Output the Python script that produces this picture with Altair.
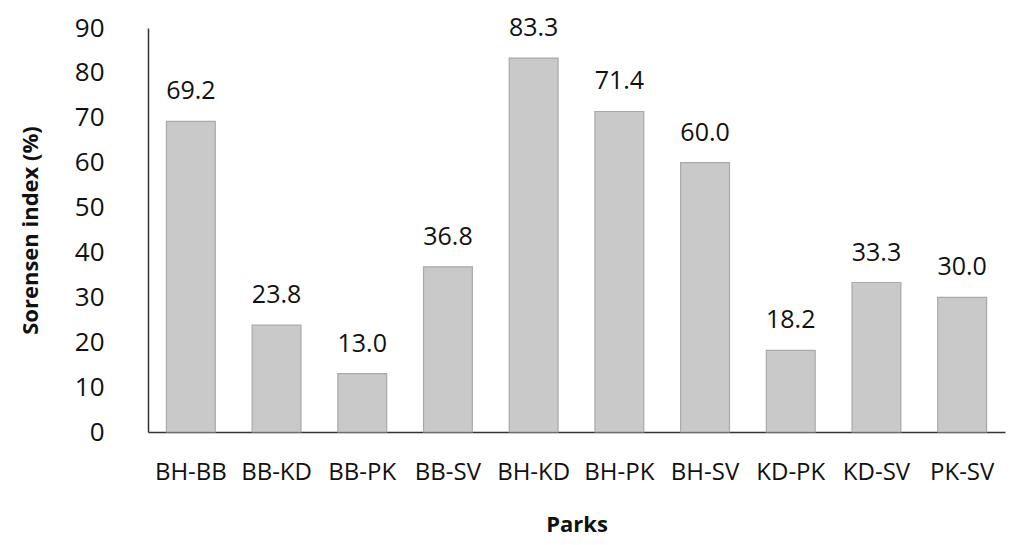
import altair as alt
import pandas as pd

parks = ["BH-BB", "BB-KD", "BB-PK", "BB-SV", "BH-KD", "BH-PK", "BH-SV", "KD-PK", "KD-SV", "PK-SV"]
sorensen = [69.2, 23.8, 13.0, 36.8, 83.3, 71.4, 60.0, 18.2, 33.3, 30.0]
y_ticks = [0, 10, 20, 30, 40, 50, 60, 70, 80, 90]

df = pd.DataFrame({"Parks": parks, "value": sorensen})
df["label"] = df["value"].map(lambda v: f"{v:.1f}")

FONT = "Open Sans"

x = alt.X("Parks:N", sort=parks, title="Parks",
          scale=alt.Scale(paddingInner=0.43, paddingOuter=0.215),
          axis=alt.Axis(labelAngle=0, labelFontSize=24, labelFont=FONT, labelColor="#111",
                        ticks=False, labelPadding=28, domainColor="#333", domainWidth=1.5,
                        titleFontSize=22, titleFont=FONT, titleFontWeight="bold",
                        titlePadding=30, titleColor="#111"))
y = alt.Y("value:Q", title="Sorensen index (%)",
          scale=alt.Scale(domain=[0, 90], nice=False),
          axis=alt.Axis(values=y_ticks, grid=False, ticks=False, labelFontSize=26,
                        labelFont=FONT, labelColor="#111", labelPadding=44,
                        domainColor="#333", domainWidth=1.5,
                        titleFontSize=22, titleFont=FONT, titleFontWeight="bold",
                        titlePadding=32, titleColor="#111"))

bars = alt.Chart(df).mark_bar(color="#c9c9c9", stroke="#a9a9a9", strokeWidth=1.2).encode(x=x, y=y)
text = alt.Chart(df).mark_text(dy=-30, baseline="middle", fontSize=25, font=FONT, color="#111").encode(
    x=alt.X("Parks:N", sort=parks), y="value:Q", text="label:N")

chart = (bars + text).properties(
    width=857, height=404,
    background="white",
    autosize=alt.AutoSizeParams(type="none"),
    padding={"left": 140, "top": 20, "right": 5, "bottom": 112},
).configure_view(strokeWidth=0, stroke=None)

chart.save("out.html", embed_options={"renderer": "svg", "actions": False})
